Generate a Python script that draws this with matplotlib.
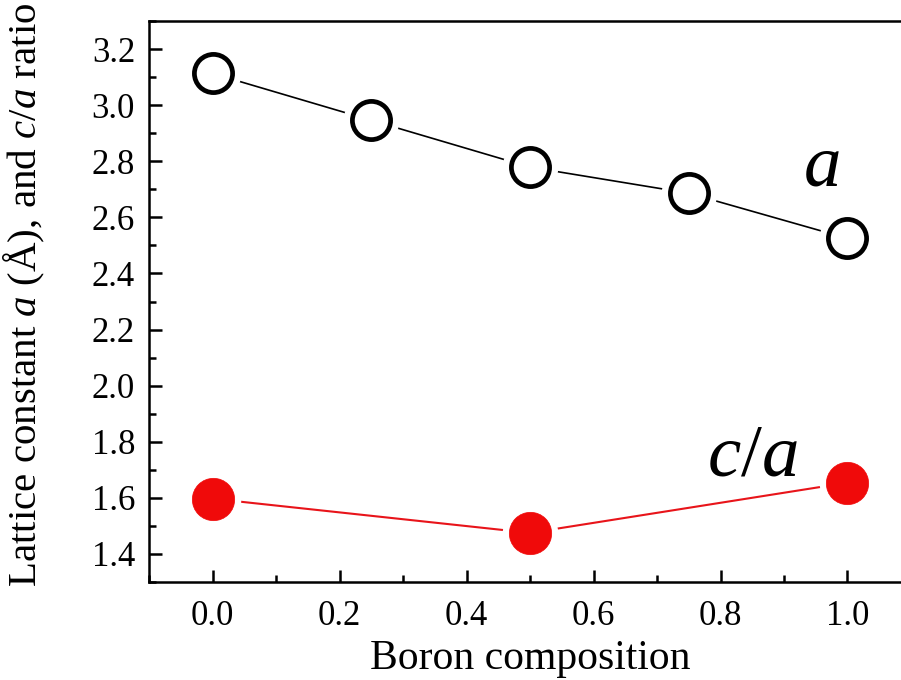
import matplotlib
matplotlib.use("Agg")
import matplotlib.pyplot as plt
from matplotlib.ticker import MultipleLocator

plt.rcParams['font.family'] = ['Liberation Serif', 'DejaVu Serif']
plt.rcParams['mathtext.fontset'] = 'custom'
plt.rcParams['mathtext.rm'] = 'Liberation Serif'
plt.rcParams['mathtext.it'] = 'Liberation Serif:italic'

boron = [0.0, 0.25, 0.5, 0.75, 1.0]
lattice_a = [3.113, 2.946, 2.779, 2.686, 2.525]
boron_ca = [0.0, 0.5, 1.0]
ratio_ca = [1.597, 1.475, 1.654]

fig = plt.figure(figsize=(9.01, 6.80), dpi=100)
ax = fig.add_axes([149/901, 98/680, 762/901, 561/680])

ms = 30
# lines
ax.plot(boron, lattice_a, color='black', lw=1.2, zorder=1)
ax.plot(boron_ca, ratio_ca, color='#e8141a', lw=1.5, zorder=1)
# white halos to create gaps
ax.plot(boron, lattice_a, ls='none', marker='o', ms=ms + 9, mfc='white', mec='white', zorder=2)
ax.plot(boron_ca, ratio_ca, ls='none', marker='o', ms=ms + 9, mfc='white', mec='white', zorder=2)
# markers
ax.plot(boron, lattice_a, ls='none', marker='o', ms=ms - 2.5, mfc='white', mec='black', mew=3.4, zorder=3)
ax.plot(boron_ca, ratio_ca, ls='none', marker='o', ms=ms + 0.5, mfc='#f00a0a', mec='#f00a0a', mew=0.5, zorder=3)

ax.set_xlim(-0.1, 1.1)
ax.set_ylim(1.3, 3.3)
ax.xaxis.set_minor_locator(MultipleLocator(0.1))
ax.yaxis.set_minor_locator(MultipleLocator(0.1))
xticks = [0.0, 0.2, 0.4, 0.6, 0.8, 1.0]
yticks = [1.4, 1.6, 1.8, 2.0, 2.2, 2.4, 2.6, 2.8, 3.0, 3.2]
ax.set_xticks(xticks)
ax.set_xticklabels([f'{v:.1f}' for v in xticks])
ax.set_yticks(yticks)
ax.set_yticklabels([f'{v:.1f}' for v in yticks])

ax.tick_params(which='both', direction='in', top=False, right=False, width=1.8, labelsize=25)
ax.tick_params(which='major', length=9)
ax.tick_params(which='minor', length=5)
ax.tick_params(axis='y', which='major', pad=10)
ax.tick_params(axis='x', which='major', pad=13)
for s in ['left', 'bottom', 'top']:
    ax.spines[s].set_linewidth(1.8)
ax.spines['right'].set_visible(False)

ax.set_xlabel('Boron composition', fontsize=30, labelpad=5)
ax.set_ylabel(r'Lattice constant $a$ (Å), and $c/a$ ratio', fontsize=29.5)
ax.yaxis.set_label_coords(-0.134, 0.512)

ax.text(0.93, 2.714, r'$a$', fontsize=54, ha='left', va='baseline')
ax.text(0.779, 1.679, r'$c/a$', fontsize=54, ha='left', va='baseline')

fig.savefig('out.png', dpi=100)
